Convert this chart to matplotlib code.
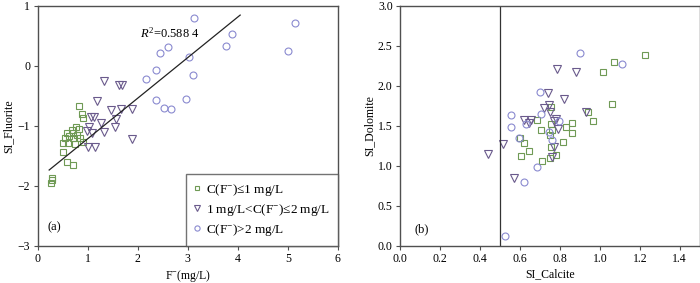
import matplotlib
matplotlib.use("Agg")
import matplotlib.pyplot as plt
import numpy as np

plt.rcParams['font.family'] = ['Liberation Serif', 'DejaVu Serif']
plt.rcParams['mathtext.fontset'] = 'custom'
plt.rcParams['mathtext.rm'] = 'Liberation Serif'
plt.rcParams['mathtext.it'] = 'Liberation Serif:italic'
plt.rcParams['font.size'] = 8.5

# ---- panel (a): F- vs SI_Fluorite ----
a_low_x = [0.833, 0.88, 0.913, 0.767, 0.68, 0.833, 0.58, 0.713, 0.78, 0.633, 0.547,
           0.70, 0.847, 0.50, 0.613, 0.747, 0.90, 0.513, 0.593, 0.70, 0.293, 0.28, 0.267]
a_low_y = [-0.667, -0.81, -0.877, -1.017, -1.072, -1.06, -1.127, -1.127, -1.155, -1.172, -1.21,
           -1.21, -1.21, -1.293, -1.293, -1.305, -1.267, -1.433, -1.605, -1.655, -1.877, -1.90, -1.95]

a_mid_x = [1.327, 1.633, 1.68, 1.18, 1.46, 1.66, 1.88, 1.06, 1.127, 1.26, 1.567, 1.033,
           1.547, 0.993, 1.08, 1.333, 1.013, 1.147, 1.88]
a_mid_y = [-0.25, -0.317, -0.317, -0.583, -0.739, -0.72, -0.72, -0.85, -0.861, -0.95, -0.889, -1.028,
           -1.017, -1.089, -1.128, -1.10, -1.35, -1.35, -1.228]

a_high_x = [3.133, 5.147, 3.893, 3.76, 5.013, 2.60, 2.44, 3.02, 3.113, 2.373, 2.16,
            2.373, 2.967, 2.533, 2.66]
a_high_y = [0.789, 0.706, 0.522, 0.328, 0.25, 0.317, 0.206, 0.15, -0.161, -0.067, -0.228,
            -0.567, -0.556, -0.70, -0.722]

fit_slope = 0.676
fit_intercept = -1.892
fit_range = [0.227, 4.047]
r2_text = r'$R^2$=0.588 4'

# ---- panel (b): SI_Calcite vs SI_Dolomite ----
b_low_x = [1.225, 1.07, 1.018, 1.061, 0.966, 0.938, 0.859, 0.858, 0.83, 0.813, 0.753, 0.751,
           0.779, 0.711, 0.603, 0.644, 0.619, 0.599, 0.706, 0.686, 0.753, 0.749, 0.761, 0.757]
b_low_y = [2.383, 2.292, 2.175, 1.767, 1.555, 1.675, 1.409, 1.538, 1.488, 1.292, 1.238, 1.10,
           1.134, 1.055, 1.125, 1.188, 1.288, 1.342, 1.446, 1.571, 1.517, 1.384, 1.446, 1.738]

b_mid_x = [0.44, 0.516, 0.571, 0.786, 0.879, 0.738, 0.819, 0.721, 0.746, 0.749, 0.619, 0.654,
           0.646, 0.779, 0.772, 0.79, 0.929, 0.771, 0.761]
b_mid_y = [1.142, 1.271, 0.842, 2.209, 2.171, 1.905, 1.83, 1.725, 1.759, 1.675, 1.571, 1.571,
           1.53, 1.58, 1.565, 1.455, 1.675, 1.23, 1.113]

b_high_x = [0.899, 1.11, 0.70, 0.703, 0.553, 0.554, 0.629, 0.796, 0.746, 0.758, 0.594, 0.683,
            0.619, 0.5225]
b_high_y = [2.41, 2.271, 1.921, 1.646, 1.634, 1.488, 1.521, 1.563, 1.417, 1.321, 1.342, 0.988,
            0.792, 0.121]

calcite_line = 0.5

labels = [r'C(F$^{-}$)≤1 mg/L', r'1 mg/L<C(F$^{-}$)≤2 mg/L', r'C(F$^{-}$)>2 mg/L']
green = '#6f9a55'
purple = '#6a5a8c'
blue = '#8a8ad0'
spine = '#505050'

fig = plt.figure(figsize=(7, 2.83), dpi=100)
ax1 = fig.add_axes([0.054, 0.1318, 0.4286, 0.848])
ax2 = fig.add_axes([0.5719, 0.1318, 0.4276, 0.848])

def style(ax):
    for s in ax.spines.values():
        s.set_color(spine)
        s.set_linewidth(1.0)
    ax.tick_params(direction='out', length=3, width=0.8, color=spine,
                   labelsize=8.5, top=False, right=False, pad=2.5)

mk = dict(linestyle='none', markerfacecolor='none', markeredgewidth=0.8)

# panel (a)
ax1.plot(a_low_x, a_low_y, marker='s', markersize=4.5, markeredgecolor=green, label=labels[0], **mk)
ax1.plot(a_mid_x, a_mid_y, marker='v', markersize=5.5, markeredgecolor=purple, label=labels[1], **mk)
ax1.plot(a_high_x, a_high_y, marker='o', markersize=5, markeredgecolor=blue, label=labels[2], **mk)
fx = np.array(fit_range)
ax1.plot(fx, fit_slope * fx + fit_intercept, color='#222222', linewidth=0.9)
ax1.text(2.05, 0.54, r2_text, fontsize=9, va='center')
ax1.text(0.2, -2.7, '(a)', fontsize=9, va='center')
ax1.set_xlim(0, 6)
ax1.set_ylim(-3, 1)
ax1.set_xticks([0, 1, 2, 3, 4, 5, 6])
ax1.set_yticks([-3, -2, -1, 0, 1])
ax1.set_xlabel(r'F$^{-}$(mg/L)', fontsize=8.5, labelpad=2)
ax1.set_ylabel('SI_Fluorite', fontsize=8.5, labelpad=2)
style(ax1)
leg = ax1.legend(loc='lower right', borderaxespad=0, fancybox=False, fontsize=9.5,
                 handlelength=0.6, handletextpad=0.35, labelspacing=0.3,
                 borderpad=0.6, markerscale=0.75)
leg.get_frame().set_edgecolor(spine)
leg.get_frame().set_linewidth(1.0)

# panel (b)
ax2.plot(b_low_x, b_low_y, marker='s', markersize=4.5, markeredgecolor=green, **mk)
ax2.plot(b_mid_x, b_mid_y, marker='v', markersize=5.5, markeredgecolor=purple, **mk)
ax2.plot(b_high_x, b_high_y, marker='o', markersize=5, markeredgecolor=blue, **mk)
ax2.axvline(calcite_line, color='#333333', linewidth=0.9)
ax2.text(0.07, 0.21, '(b)', fontsize=9, va='center')
ax2.set_xlim(0, 1.5)
ax2.set_ylim(0, 3)
ax2.set_xticks(np.arange(0, 1.41, 0.2))
ax2.set_yticks(np.arange(0, 3.01, 0.5))
ax2.set_xticklabels([f'{v:.1f}' for v in np.arange(0, 1.41, 0.2)])
ax2.set_yticklabels([f'{v:.1f}' for v in np.arange(0, 3.01, 0.5)])
ax2.set_xlabel('SI_Calcite', fontsize=8.5, labelpad=2)
ax2.set_ylabel('SI_Dolomite', fontsize=8.5, labelpad=2)
style(ax2)

fig.savefig('out.png', dpi=100)
